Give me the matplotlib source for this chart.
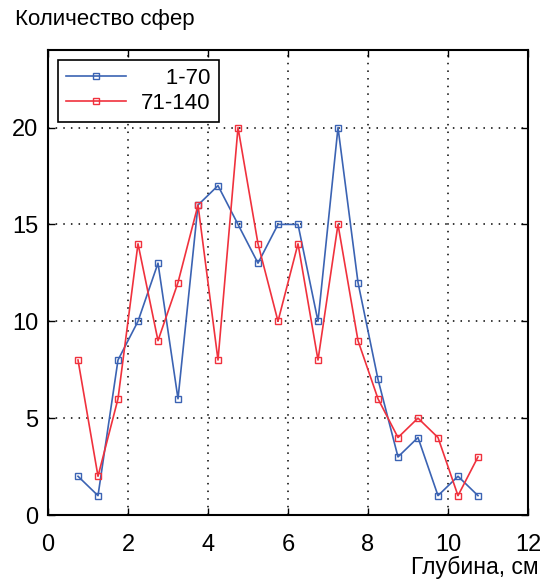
import matplotlib
matplotlib.use("Agg")
import matplotlib.pyplot as plt

plt.rcParams['font.family'] = ['Liberation Sans', 'DejaVu Sans']

depth = [0.75, 1.25, 1.75, 2.25, 2.75, 3.25, 3.75, 4.25, 4.75, 5.25, 5.75,
         6.25, 6.75, 7.25, 7.75, 8.25, 8.75, 9.25, 9.75, 10.25, 10.75]
s1_70 = [2, 1, 8, 10, 13, 6, 16, 17, 15, 13, 15, 15, 10, 20, 12, 7, 3, 4, 1, 2, 1]
s71_140 = [8, 2, 6, 14, 9, 12, 16, 8, 20, 14, 10, 14, 8, 15, 9, 6, 4, 5, 4, 1, 3]
labels = ['\u2007\u20071-70', '71-140']
xticks = [0, 2, 4, 6, 8, 10, 12]
yticks = [0, 5, 10, 15, 20]

fig = plt.figure(figsize=(5.48, 5.83), dpi=100)
ax = fig.add_axes([0.0876, 0.1166, 0.8759, 0.7976])

blue = '#3b63b3'
red = '#f0313d'
ax.plot(depth, s1_70, color=blue, lw=1.2, marker='s', ms=5, mfc='none', mec=blue, mew=1.0, label=labels[0])
ax.plot(depth, s71_140, color=red, lw=1.2, marker='s', ms=5, mfc='none', mec=red, mew=1.0, label=labels[1])

ax.set_xlim(0, 12)
ax.set_ylim(0, 24)
ax.set_xticks(xticks)
ax.set_yticks(yticks)
ax.tick_params(direction='in', top=True, right=True, labelsize=17, length=5, width=1)
ax.tick_params(axis='x', pad=14)
ax.tick_params(axis='y', pad=7)
ax.grid(True, color='black', linestyle=(0, (1, 4)), linewidth=1.1)
for sp in ax.spines.values():
    sp.set_linewidth(1.5)

leg = ax.legend(loc='upper left', fontsize=16, frameon=True, fancybox=False,
                edgecolor='black', framealpha=1, handlelength=2.7,
                borderaxespad=0.45, labelspacing=0.2, borderpad=0.35,
                handletextpad=0.7)
leg.get_frame().set_linewidth(1.2)

fig.text(0.027, 0.966, 'Количество сфер', fontsize=16, ha='left', va='center')
fig.text(0.982, 0.026, 'Глубина, см', fontsize=16.5, ha='right', va='center')

fig.savefig('out.png', dpi=100)
